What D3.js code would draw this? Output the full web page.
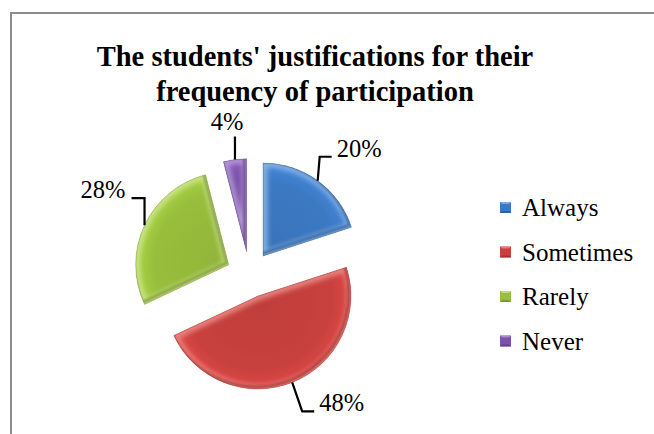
<!DOCTYPE html>
<html>
<head>
<meta charset="utf-8">
<script src="https://cdn.jsdelivr.net/npm/d3@7"></script>
</head>
<body style="margin:0;padding:0;background:#fff">
<svg id="chart" width="654" height="434" style="display:block"></svg>
<script>
// ---- data ----
const categories = ["Always", "Sometimes", "Rarely", "Never"];
const values = [20, 48, 28, 4];
const labels = ["20%", "48%", "28%", "4%"];
const titleLines = ["The students' justifications for their", "frequency of participation"];

// ---- styles / layout ----
const FONT = "Liberation Serif";
const baseColors = ["#3c79c3", "#c8413e", "#98be3c", "#7b53aa"];
const lightColors = ["#8db5e6", "#ec8a86", "#cde38f", "#b69ad6"];
const darkColors = ["#244f86", "#8a2522", "#66842a", "#523479"];
const W = 654, H = 434;
const cx = 249.5, cy = 274.6, R = 93, explode = 23;

// leader layout (elbow and end offsets relative to arc midpoint)
const leaderLayout = [
  { e: [2, -24], f: [14, -24], anchor: "start", tdx: 5, tdy: 0 },
  { e: [10, 29], f: [22, 29], anchor: "start", tdx: 5, tdy: 0 },
  { e: [0, -27], f: [-13, -27], anchor: "end", tdx: -6, tdy: 0 },
  { e: [0, -23], f: [0, -23], anchor: "middle", tdx: -8, tdy: -7 }
];

const svg = d3.select("#chart");
const defs = svg.append("defs");

// border
svg.append("rect")
  .attr("x", 11).attr("y", 13).attr("width", W + 20).attr("height", H + 20)
  .attr("fill", "#fff").attr("stroke", "#8c8c8c").attr("stroke-width", 2);

// title
svg.append("g").selectAll("text").data(titleLines).join("text")
  .attr("x", 315).attr("y", (d, i) => 66 + i * 35)
  .attr("text-anchor", "middle")
  .attr("font-family", FONT)
  .attr("font-weight", "bold")
  .attr("font-size", 28.5)
  .text(d => d);

const color = d3.scaleOrdinal().domain(categories).range(baseColors);
const light = d3.scaleOrdinal().domain(categories).range(lightColors);
const dark = d3.scaleOrdinal().domain(categories).range(darkColors);

const pie = d3.pie().sort(null).value(d => d.v);
const arcs = pie(categories.map((c, i) => ({ c, v: values[i], i })));
const arc = d3.arc().innerRadius(0).outerRadius(R);

defs.append("filter").attr("id", "blur").attr("x", "-20%").attr("y", "-20%").attr("width", "140%").attr("height", "140%")
  .append("feGaussianBlur").attr("stdDeviation", 2.6);
defs.append("filter").attr("id", "blur2").attr("x", "-20%").attr("y", "-20%").attr("width", "140%").attr("height", "140%")
  .append("feGaussianBlur").attr("stdDeviation", 1.2);

const offset = d => {
  const a = (d.startAngle + d.endAngle) / 2;
  return [cx + explode * Math.sin(a), cy - explode * Math.cos(a)];
};

const slices = svg.append("g");
arcs.forEach((d, i) => {
  const [ox, oy] = offset(d);
  const g = slices.append("g").attr("transform", `translate(${ox},${oy})`);
  const cpId = "clip" + i;
  defs.append("clipPath").attr("id", cpId)
    .append("path").attr("d", arc(d));
  const gradId = "grad" + i;
  const gr = defs.append("radialGradient").attr("id", gradId)
    .attr("gradientUnits", "userSpaceOnUse").attr("cx", 0).attr("cy", 0).attr("r", R);
  gr.append("stop").attr("offset", "0%").attr("stop-color", d3.color(color(d.data.c)).darker(0.15));
  gr.append("stop").attr("offset", "80%").attr("stop-color", color(d.data.c));
  gr.append("stop").attr("offset", "100%").attr("stop-color", d3.color(color(d.data.c)).brighter(0.3));
  g.append("path").attr("d", arc(d)).attr("fill", `url(#${gradId})`);
  const inner = g.append("g").attr("clip-path", `url(#${cpId})`);
  inner.append("path").attr("d", arc(d))
    .attr("fill", "none").attr("stroke", light(d.data.c)).attr("stroke-width", 9)
    .attr("filter", "url(#blur)").attr("opacity", 0.9);
  inner.append("path").attr("d", arc(d))
    .attr("transform", "translate(-2,-2)")
    .attr("fill", "none").attr("stroke", dark(d.data.c)).attr("stroke-width", 3)
    .attr("filter", "url(#blur2)").attr("opacity", 0.6);
  g.append("path").attr("d", arc(d))
    .attr("fill", "none").attr("stroke", dark(d.data.c)).attr("stroke-width", 0.6).attr("opacity", 0.5);
});

// leader lines and labels
const lab = svg.append("g");
arcs.forEach((d, i) => {
  const [ox, oy] = offset(d);
  const a = (d.startAngle + d.endAngle) / 2;
  const px = ox + R * Math.sin(a), py = oy - R * Math.cos(a);
  const L = leaderLayout[i];
  const pts = [[px, py], [px + L.e[0], py + L.e[1]], [px + L.f[0], py + L.f[1]]];
  lab.append("path").attr("d", d3.line()(pts))
    .attr("fill", "none").attr("stroke", "#000").attr("stroke-width", 2.2);
  lab.append("text")
    .attr("x", pts[2][0] + L.tdx).attr("y", pts[2][1] + L.tdy)
    .attr("text-anchor", L.anchor)
    .attr("font-family", FONT)
    .attr("font-size", 24.5)
    .text(labels[i]);
});

// legend
const leg = svg.append("g").attr("transform", "translate(500,202)");
const rows = leg.selectAll("g").data(categories).join("g")
  .attr("transform", (d, i) => `translate(0,${i * 44.5})`);
const s = 11;
rows.append("rect").attr("width", s).attr("height", s).attr("fill", d => color(d));
rows.append("path").attr("d", `M0,0L${s},0L${s/2},${s/2}Z`).attr("fill", d => light(d)).attr("opacity", 0.8);
rows.append("path").attr("d", `M0,${s}L${s},${s}L${s/2},${s/2}Z`).attr("fill", d => dark(d)).attr("opacity", 0.6);
rows.append("rect").attr("x", 2).attr("y", 2).attr("width", s - 4).attr("height", s - 4).attr("fill", d => color(d));
rows.append("text").attr("x", 22).attr("y", s / 2 + 8.5)
  .attr("font-family", FONT)
  .attr("font-size", 25).text(d => d);
</script>
</body>
</html>
